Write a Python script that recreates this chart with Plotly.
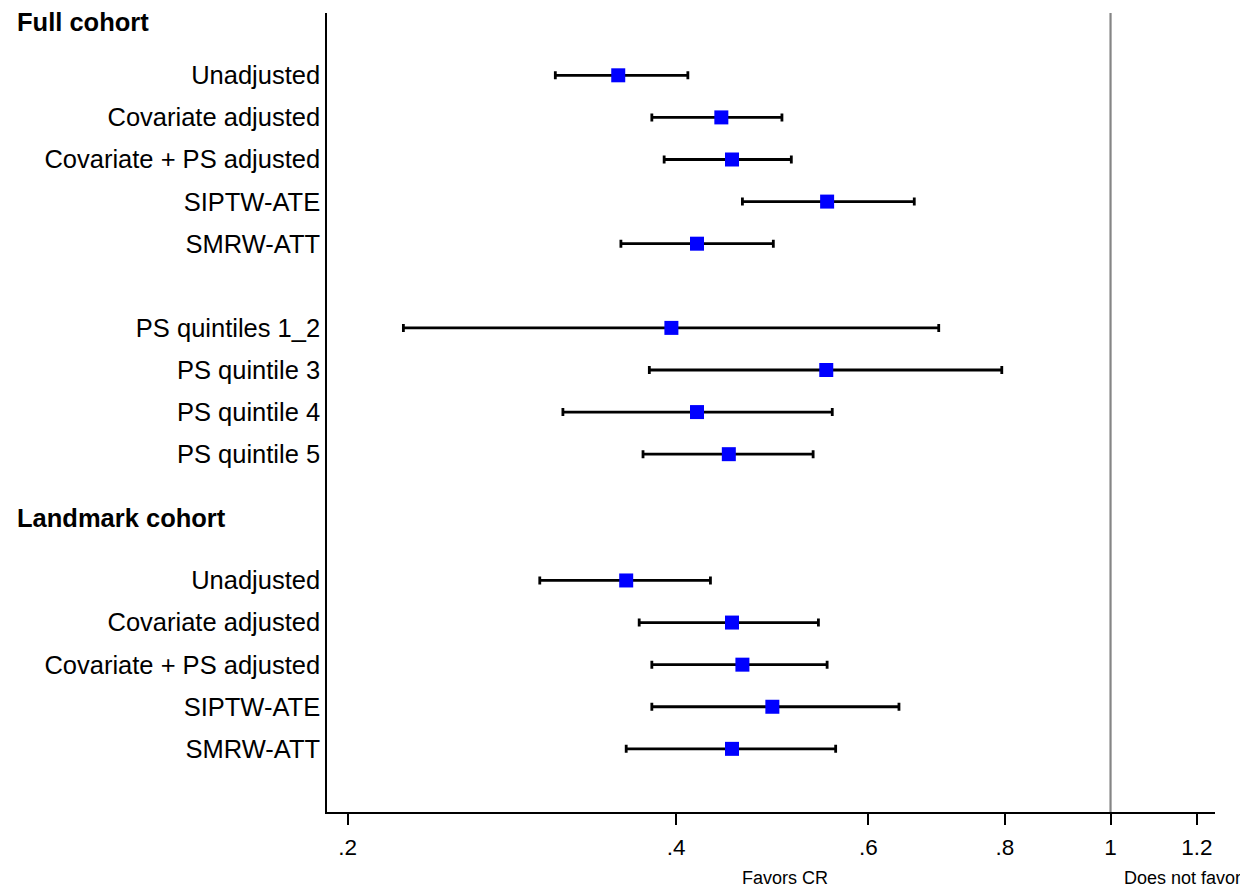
import plotly.graph_objects as go

# ---- data ----
full_labels = ["Unadjusted", "Covariate adjusted", "Covariate + PS adjusted", "SIPTW-ATE", "SMRW-ATT"]
full_est = [0.354, 0.440, 0.450, 0.550, 0.418]
full_lo = [0.310, 0.380, 0.390, 0.460, 0.356]
full_hi = [0.410, 0.500, 0.510, 0.661, 0.491]

quint_labels = ["PS quintiles 1_2", "PS quintile 3", "PS quintile 4", "PS quintile 5"]
quint_est = [0.396, 0.549, 0.418, 0.447]
quint_lo = [0.225, 0.378, 0.315, 0.373]
quint_hi = [0.696, 0.795, 0.556, 0.534]

land_labels = ["Unadjusted", "Covariate adjusted", "Covariate + PS adjusted", "SIPTW-ATE", "SMRW-ATT"]
land_est = [0.360, 0.450, 0.460, 0.490, 0.450]
land_lo = [0.300, 0.370, 0.380, 0.380, 0.360]
land_hi = [0.430, 0.540, 0.550, 0.640, 0.560]

x_ticks = [0.2, 0.4, 0.6, 0.8, 1, 1.2]
x_ticktext = [".2", ".4", ".6", ".8", "1", "1.2"]

# ---- layout of rows (one slot per row, blank slots as gaps) ----
blocks = [(full_labels, full_est, full_lo, full_hi),
          (quint_labels, quint_est, quint_lo, quint_hi),
          (land_labels, land_est, land_lo, land_hi)]
gaps_before = [0, 1, 2]
labels, est, lo, hi, ys = [], [], [], [], []
slot = 0
for (lab, e, l, h), g in zip(blocks, gaps_before):
    slot += g
    for i in range(len(lab)):
        labels.append(lab[i]); est.append(e[i]); lo.append(l[i]); hi.append(h[i]); ys.append(slot)
        slot += 1

fig = go.Figure()
fig.add_trace(go.Scatter(
    x=est, y=ys, mode="markers",
    marker=dict(symbol="square", size=14, color="#0000FF", line=dict(width=0)),
    error_x=dict(type="data", symmetric=False,
                 array=[h - e for h, e in zip(hi, est)],
                 arrayminus=[e - l for e, l in zip(est, lo)],
                 color="black", thickness=2.8, width=4),
    showlegend=False, hoverinfo="skip"))

fig.add_shape(type="line", xref="x", yref="paper", x0=1, x1=1, y0=0, y1=1,
              line=dict(color="#858585", width=2.2), layer="below")

font = "Liberation Sans, Arial, sans-serif"
# page body has an 8px margin, so the figure is sized to fit the window from (8, 8)
fig.update_layout(
    width=1240, height=879,
    margin=dict(l=319, r=33, t=5, b=75),
    paper_bgcolor="white", plot_bgcolor="white",
    font=dict(family=font, color="black"),
    xaxis=dict(type="log", range=[-0.7178, 0.0957], tickvals=x_ticks, ticktext=x_ticktext,
               showgrid=False, zeroline=False, showline=True, linecolor="black", linewidth=1.5,
               ticks="outside", ticklen=11, tickwidth=1.5, tickcolor="black",
               tickfont=dict(size=22.5, family=font), ticklabelstandoff=3),
    yaxis=dict(range=[17.5, -1.48], tickvals=ys, ticktext=labels, showgrid=False, zeroline=False,
               showline=True, linecolor="black", linewidth=1.5, ticks="",
               tickfont=dict(size=25.5, family=font), ticklabelstandoff=0),
)

fig.add_annotation(text="<b>Full cohort</b>", xref="paper", yref="y", x=-0.351, y=-1.26,
                   xanchor="left", yanchor="middle", showarrow=False, font=dict(size=25.5, family=font))
fig.add_annotation(text="<b>Landmark cohort</b>", xref="paper", yref="y", x=-0.351, y=10.52,
                   xanchor="left", yanchor="middle", showarrow=False, font=dict(size=25.5, family=font))
fig.add_annotation(text="Favors CR", xref="paper", yref="paper", x=0.516, y=-0.083,
                   xanchor="center", yanchor="middle", showarrow=False, font=dict(size=18, family=font))
fig.add_annotation(text="Does not favor", xref="paper", yref="paper", x=0.963, y=-0.082,
                   xanchor="center", yanchor="middle", showarrow=False, font=dict(size=18, family=font))

fig.write_html("out.html")
